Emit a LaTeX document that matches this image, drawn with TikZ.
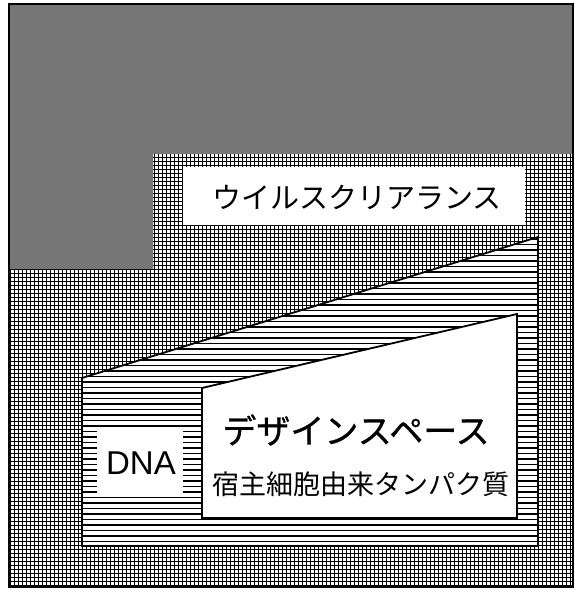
\documentclass[tikz,border=0pt]{standalone}
\usepackage{fontspec}
\newfontfamily\cjk{Noto Sans CJK JP}
\newfontfamily\cjkmed[FakeBold=0.9]{Noto Sans CJK JP}
\newfontfamily\latinsans{Liberation Sans}
\definecolor{darkfill}{RGB}{118,118,118}
\tikzset{
  gridline/.style={line width=0.95pt, black},
  hline/.style={line width=1.3pt, black},
  outline/.style={line width=1.8pt, black},
  label/.style={inner sep=0pt, anchor=center},
}
\begin{document}
\begin{tikzpicture}[x=1pt,y=-1pt]
\useasboundingbox (0,0) rectangle (575,590);
% crosshatch background
\fill[white] (9,4) rectangle (573,587);
\begin{scope}
  \clip (9,4) rectangle (573,587);
  \foreach \i in {0,...,141} { \draw[gridline] (10+\i*4,4) -- ++(0,583); }
  \foreach \j in {0,...,145} { \draw[gridline] (9,5+\j*4) -- ++(564,0); }
\end{scope}
% dark gray region
\fill[darkfill] (9,4) -- (573,4) -- (573,154) -- (153,154) -- (153,269) -- (9,269) -- cycle;
% outer frame
\draw[outline] (9,4) rectangle (573,587);
% white label box
\fill[white] (183,167) rectangle (525,225);
\node[label, font=\cjk\fontsize{29}{31}\selectfont] (vc) at (357,197) {ウイルスクリアランス};
% horizontal-lines trapezoid
\fill[white] (82,378) -- (538,237) -- (538,546) -- (82,546) -- cycle;
\begin{scope}
  \clip (82,378) -- (538,237) -- (538,546) -- (82,546) -- cycle;
  \foreach \j in {0,...,55} { \draw[hline] (82,239+\j*5.5) -- ++(456,0); }
\end{scope}
\draw[outline] (82,378) -- (538,237) -- (538,546) -- (82,546) -- cycle;
% DNA box
\fill[white] (97,428) rectangle (183,495);
\node[label, font=\latinsans\fontsize{33}{35}\selectfont] (dna) at (141,463) {DNA};
% inner white trapezoid
\filldraw[outline, fill=white] (202,388) -- (517,314) -- (517,518) -- (202,518) -- cycle;
\node[label, font=\cjkmed\fontsize{34}{36}\selectfont] (ds) at (356,430) {デザインスペース};
\node[label, font=\cjk\fontsize{27}{29}\selectfont] (hcp) at (361,484) {宿主細胞由来タンパク質};
\end{tikzpicture}
\end{document}
